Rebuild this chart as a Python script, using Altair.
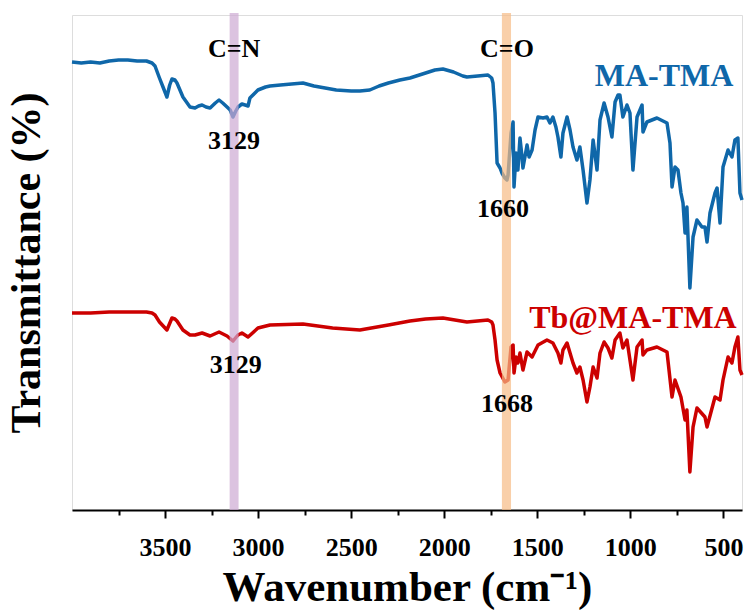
import altair as alt
import pandas as pd

# FT-IR spectra (transmittance, arbitrary offset units) vs wavenumber (cm-1)
ma_wn = [4000, 3950, 3900, 3850, 3800, 3750, 3700, 3650, 3600, 3570,
         3554, 3530, 3511, 3490, 3475, 3463, 3447, 3436, 3404, 3366,
         3339, 3320, 3301, 3280, 3258, 3230, 3210, 3190, 3167, 3150,
         3135, 3120, 3108, 3087, 3070, 3054, 3044, 3001, 2960, 2936,
         2880, 2820, 2759, 2700, 2640, 2580, 2500, 2453, 2400, 2350,
         2300, 2238, 2184, 2100, 2050, 2007, 1950, 1900, 1878, 1820,
         1765, 1745, 1738, 1727, 1716, 1700, 1690, 1674, 1663, 1657,
         1641, 1630, 1625, 1614, 1604, 1593, 1582, 1577, 1555, 1544,
         1528, 1512, 1496, 1469, 1448, 1432, 1416, 1400, 1389, 1373,
         1362, 1340, 1324, 1308, 1287, 1271, 1254, 1233, 1217, 1200,
         1179, 1163, 1141, 1120, 1099, 1082, 1066, 1056, 1040, 1018,
         1002, 986, 964, 937, 932, 911, 857, 803, 787, 776,
         760, 744, 728, 717, 706, 696, 680, 663, 642, 615,
         599, 588, 572, 545, 534, 518, 502, 475, 454, 438,
         422, 411, 400]
ma_t = [448, 447, 448, 447, 449, 450, 450, 449, 449, 447,
        444, 432, 423, 413, 425, 431, 430, 427, 413, 403,
        402, 404, 405, 403, 402, 407, 410, 407, 403, 400,
        393, 399, 403, 406, 405, 404, 412, 420, 423, 424,
        425, 426, 427, 424, 422, 420, 419, 419, 420, 424,
        427, 430, 432, 437, 440, 441, 438, 434, 433, 434,
        435, 432, 427, 397, 347, 342, 337, 332, 330, 335,
        377, 388, 323, 357, 340, 372, 353, 342, 365, 353,
        360, 380, 393, 392, 393, 387, 393, 383, 373, 353,
        377, 393, 380, 363, 350, 363, 340, 307, 330, 370,
        340, 390, 407, 393, 373, 408, 415, 415, 393, 405,
        397, 340, 393, 405, 378, 388, 392, 387, 367, 323,
        343, 340, 317, 307, 277, 303, 222, 273, 290, 283,
        283, 268, 297, 317, 322, 287, 343, 360, 353, 370,
        372, 317, 310]

tb_wn = [4000, 3900, 3800, 3700, 3600, 3570, 3554, 3530, 3490, 3463,
         3447, 3436, 3404, 3366, 3339, 3301, 3258, 3210, 3167, 3135,
         3108, 3087, 3054, 3001, 2936, 2759, 2600, 2453, 2300, 2184,
         2100, 2007, 1878, 1765, 1745, 1738, 1727, 1716, 1700, 1674,
         1657, 1641, 1630, 1625, 1614, 1604, 1593, 1577, 1555, 1528,
         1496, 1448, 1416, 1389, 1373, 1362, 1340, 1308, 1287, 1271,
         1254, 1233, 1217, 1200, 1179, 1163, 1141, 1120, 1099, 1082,
         1056, 1040, 1018, 986, 964, 937, 932, 911, 857, 803,
         776, 760, 728, 706, 696, 680, 663, 642, 599, 588,
         545, 518, 502, 475, 454, 438, 422, 411, 400]
tb_t = [197, 197, 198, 198, 198, 197, 195, 188, 180, 192,
        191, 189, 180, 175, 175, 177, 174, 178, 174, 169,
        175, 177, 173, 182, 185, 186, 182, 180, 185, 189,
        191, 192, 188, 190, 188, 185, 170, 150, 137, 128,
        130, 163, 165, 137, 153, 147, 157, 140, 158, 153,
        165, 170, 167, 157, 147, 160, 167, 147, 137, 143,
        130, 108, 123, 143, 132, 157, 168, 162, 152, 170,
        177, 162, 170, 130, 163, 170, 155, 160, 163, 158,
        113, 130, 113, 90, 100, 38, 83, 102, 93, 83,
        113, 110, 130, 153, 147, 163, 173, 140, 135]

series_names = ["MA-TMA", "Tb@MA-TMA"]
series_colors = ["#0f67a9", "#cc0000"]

# highlighted absorption bands (cm-1)
band_lo = [3105, 1641]
band_hi = [3153, 1690]
band_colors = ["#cda9d3", "#f7bb85"]

# annotations
ann_text = ["C=N", "3129", "C=O", "1660", "MA-TMA", "3129", "1668", "Tb@MA-TMA"]
ann_x = [3129, 3129, 1663, 1684, 819, 3120, 1663, 986]
ann_y = [461, 369, 461, 301, 434, 145, 106, 192]
ann_color = ["black", "black", "black", "black", "#0f67a9", "black", "black", "#cc0000"]
ann_size = [26, 26, 26, 26, 32, 26, 26, 32]

major_ticks = [3500, 3000, 2500, 2000, 1500, 1000, 500]
minor_ticks = [3750, 3250, 2750, 2250, 1750, 1250, 750]

FONT = "Liberation Serif"

spec = pd.concat([
    pd.DataFrame({"wn": ma_wn, "t": ma_t, "sample": series_names[0]}),
    pd.DataFrame({"wn": tb_wn, "t": tb_t, "sample": series_names[1]}),
])
bands = pd.DataFrame({"lo": band_lo, "hi": band_hi, "color": band_colors})
ann = pd.DataFrame({"x": ann_x, "y": ann_y, "text": ann_text,
                    "color": ann_color, "size": ann_size})

x_scale = alt.Scale(domain=[400, 4000], reverse=True, nice=False, zero=False)
y_scale = alt.Scale(domain=[0, 495], nice=False, zero=True)

x_axis = alt.Axis(
    title="Wavenumber (cm⁻¹)",
    values=sorted(major_ticks + minor_ticks, reverse=True),
    labelExpr="datum.value % 500 === 0 ? datum.label : ''",
    format="d",
    tickSize={"condition": {"test": "datum.value % 500 === 0", "value": 8}, "value": 5},
    tickWidth=2, tickColor="black",
    domainColor="black", domainWidth=2,
    labelFont=FONT, labelFontSize=26, labelFontWeight="bold", labelColor="black",
    labelPadding=16, labelOverlap=False,
    titleFont=FONT, titleFontSize=43, titleFontWeight="bold", titleColor="black",
    titlePadding=6, grid=False,
)
y_axis = alt.Axis(
    title="Transmittance (%)", labels=False, ticks=False, domain=False, grid=False,
    titleFont=FONT, titleFontSize=42, titleFontWeight="bold", titleColor="black",
    titlePadding=24,
)

lines = alt.Chart(spec).mark_line(strokeWidth=3.5, strokeJoin="round").encode(
    x=alt.X("wn:Q", scale=x_scale, axis=x_axis),
    y=alt.Y("t:Q", scale=y_scale, axis=y_axis),
    color=alt.Color("sample:N", scale=alt.Scale(domain=series_names, range=series_colors),
                    legend=None),
    order=alt.Order("wn:Q", sort="descending"),
)

band_rects = alt.Chart(bands).mark_rect(opacity=0.7).encode(
    x=alt.X("lo:Q", scale=x_scale),
    x2="hi:Q",
    y=alt.value(-2),
    y2=alt.value(495),
    color=alt.Color("color:N", scale=None),
)

labels = alt.Chart(ann).mark_text(font=FONT, fontWeight="bold", baseline="middle",
                                  align="center").encode(
    x=alt.X("x:Q", scale=x_scale),
    y=alt.Y("y:Q", scale=y_scale),
    text="text:N",
    color=alt.Color("color:N", scale=None),
    size=alt.Size("size:Q", scale=None),
)

chart = alt.layer(lines, band_rects, labels).properties(
    width=670, height=495,
    autosize=alt.AutoSizeParams(type="none"),
    padding={"left": 72, "top": 15, "right": 9, "bottom": 104},
).configure_view(stroke="black", strokeWidth=2).configure(background="white")

chart.save("out.html", embed_options={"renderer": "svg", "actions": False})
